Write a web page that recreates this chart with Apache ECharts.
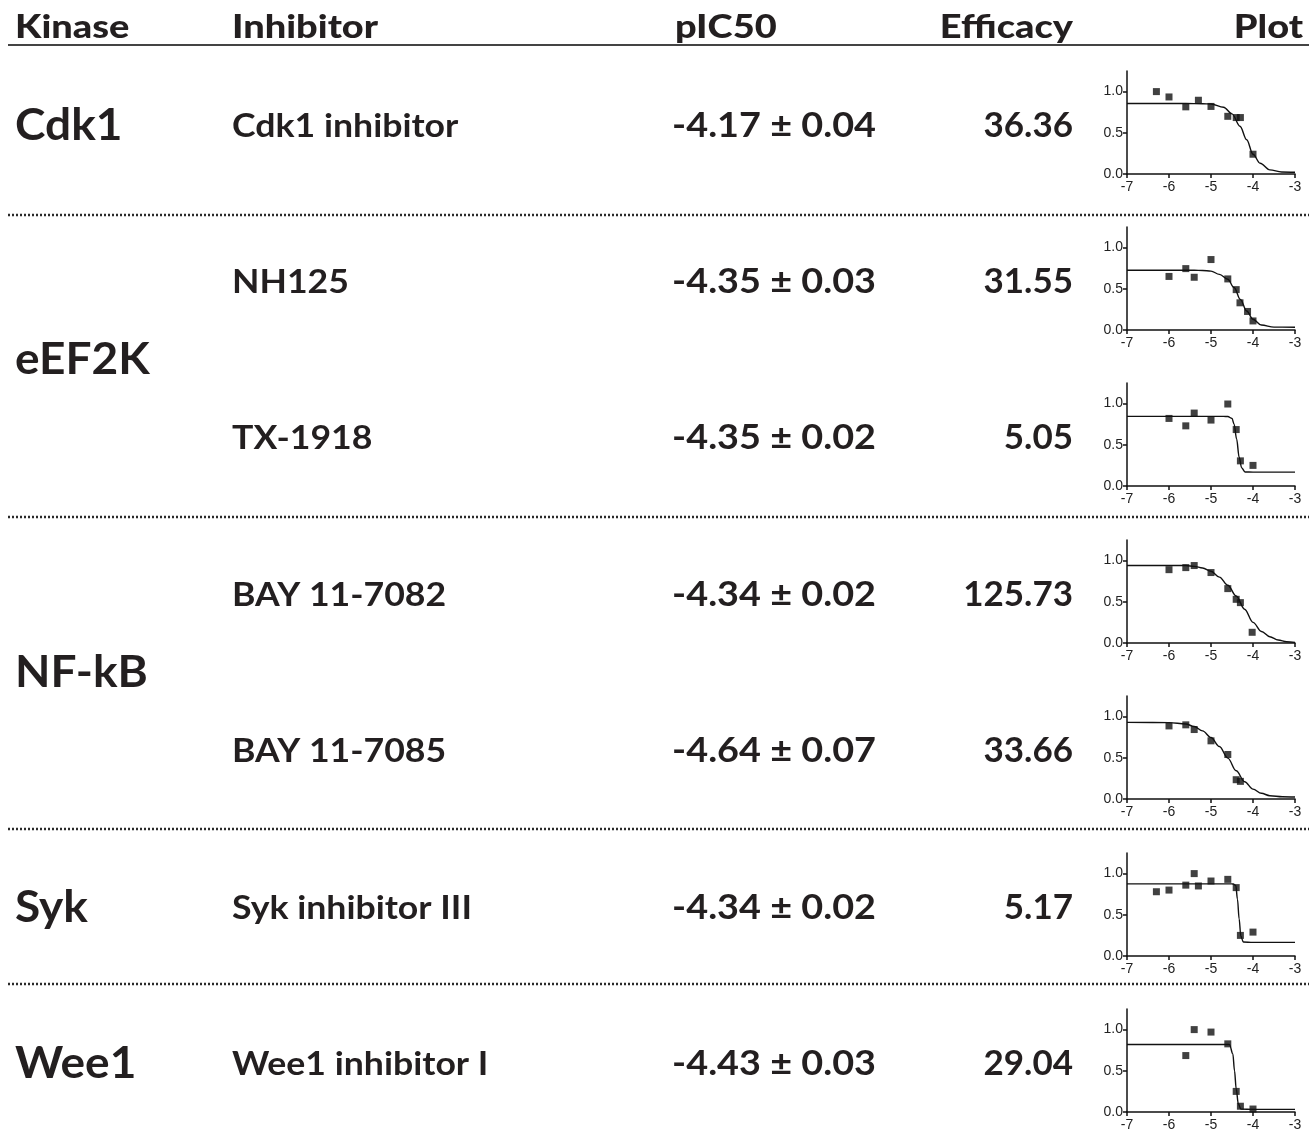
<!DOCTYPE html>
<html><head><meta charset="utf-8">
<script src="https://cdn.jsdelivr.net/npm/echarts@6/dist/echarts.min.js"></script>
<style>html,body{margin:0;padding:0;background:#fff}#c{width:1309px;height:1134px}</style>
</head><body><div id="c"></div>
<script>
// ---------- table data ----------
const headers = ['Kinase', 'Inhibitor', 'pIC50', 'Efficacy', 'Plot'];
const kinases = ['Cdk1', 'eEF2K', 'NF-kB', 'Syk', 'Wee1'];
const kinaseRowCount = [1, 2, 2, 1, 1];
const inhibitors = ['Cdk1 inhibitor', 'NH125', 'TX-1918', 'BAY 11-7082', 'BAY 11-7085', 'Syk inhibitor III', 'Wee1 inhibitor I'];
const pIC50 = ['-4.17 ± 0.04', '-4.35 ± 0.03', '-4.35 ± 0.02', '-4.34 ± 0.02', '-4.64 ± 0.07', '-4.34 ± 0.02', '-4.43 ± 0.03'];
const efficacy = ['36.36', '31.55', '5.05', '125.73', '33.66', '5.17', '29.04'];

// ---------- plot data (log concentration vs response) ----------
const ptsX1 = [-6.3, -6.0, -5.6, -5.3, -5.0, -4.6, -4.4, -4.3, -4.0];
const ptsY1 = [1.0, 0.935, 0.815, 0.895, 0.82, 0.70, 0.685, 0.685, 0.24];
const fitX1 = [-7, -5.6, -5.2, -5.0, -4.7, -4.5, -4.31, -4.15, -4.0, -3.83, -3.6, -3.32, -3.0];
const fitY1 = [0.855, 0.855, 0.853, 0.85, 0.81, 0.73, 0.58, 0.415, 0.24, 0.13, 0.05, 0.025, 0.022];

const ptsX2 = [-6.0, -5.6, -5.4, -5.0, -4.6, -4.4, -4.31, -4.13, -4.0];
const ptsY2 = [0.65, 0.745, 0.64, 0.855, 0.62, 0.49, 0.33, 0.225, 0.11];
const fitX2 = [-7, -5.4, -5.2, -5.0, -4.8, -4.6, -4.45, -4.3, -4.15, -4.0, -3.8, -3.5, -3.0];
const fitY2 = [0.725, 0.725, 0.722, 0.715, 0.675, 0.615, 0.515, 0.37, 0.23, 0.13, 0.06, 0.035, 0.033];

const ptsX3 = [-6.0, -5.6, -5.4, -5.0, -4.6, -4.4, -4.3, -4.0];
const ptsY3 = [0.82, 0.73, 0.885, 0.80, 0.995, 0.685, 0.305, 0.25];
const fitX3 = [-7, -4.7, -4.6, -4.5, -4.45, -4.39, -4.33, -4.27, -4.19, -4.0, -3.0];
const fitY3 = [0.845, 0.845, 0.843, 0.82, 0.75, 0.57, 0.35, 0.22, 0.17, 0.168, 0.168];

const ptsX4 = [-6.0, -5.6, -5.4, -5.0, -4.6, -4.4, -4.3, -4.02];
const ptsY4 = [0.89, 0.915, 0.94, 0.855, 0.66, 0.53, 0.49, 0.13];
const fitX4 = [-7, -5.6, -5.4, -5.2, -5.0, -4.8, -4.6, -4.4, -4.2, -4.0, -3.8, -3.6, -3.4, -3.2, -3.0];
const fitY4 = [0.94, 0.94, 0.93, 0.91, 0.87, 0.80, 0.70, 0.57, 0.41, 0.25, 0.14, 0.076, 0.036, 0.016, 0.008];

const ptsX5 = [-6.0, -5.6, -5.4, -5.0, -4.6, -4.4, -4.3];
const ptsY5 = [0.887, 0.90, 0.843, 0.706, 0.54, 0.234, 0.214];
const fitX5 = [-7, -6.0, -5.6, -5.4, -5.2, -5.0, -4.8, -4.6, -4.4, -4.2, -4.0, -3.8, -3.6, -3.3, -3.0];
const fitY5 = [0.93, 0.927, 0.91, 0.88, 0.827, 0.746, 0.637, 0.496, 0.343, 0.21, 0.12, 0.069, 0.04, 0.028, 0.024];

const ptsX6 = [-6.3, -6.0, -5.6, -5.4, -5.3, -5.0, -4.6, -4.4, -4.3, -4.0];
const ptsY6 = [0.78, 0.80, 0.86, 1.0, 0.85, 0.91, 0.93, 0.83, 0.25, 0.29];
const fitX6 = [-7, -4.5, -4.47, -4.41, -4.37, -4.33, -4.29, -4.23, -4.0, -3.0];
const fitY6 = [0.875, 0.875, 0.873, 0.855, 0.69, 0.45, 0.24, 0.17, 0.165, 0.165];

const ptsX7 = [-5.6, -5.4, -5.0, -4.6, -4.4, -4.3, -4.0];
const ptsY7 = [0.685, 1.0, 0.97, 0.827, 0.25, 0.07, 0.036];
const fitX7 = [-7, -4.6, -4.56, -4.48, -4.44, -4.4, -4.35, -4.29, -4.0, -3.0];
const fitY7 = [0.82, 0.82, 0.818, 0.705, 0.50, 0.28, 0.10, 0.036, 0.032, 0.032];

const xTicks = [-7, -6, -5, -4, -3];
const yTicks = [0, 0.5, 1.0];

const plots = [
  [ptsX1, ptsY1, fitX1, fitY1], [ptsX2, ptsY2, fitX2, fitY2], [ptsX3, ptsY3, fitX3, fitY3],
  [ptsX4, ptsY4, fitX4, fitY4], [ptsX5, ptsY5, fitX5, fitY5], [ptsX6, ptsY6, fitX6, fitY6],
  [ptsX7, ptsY7, fitX7, fitY7]
];

// ---------- layout ----------
const INK = '#231f20';
const rowY = [126, 282, 438, 595, 751, 908, 1064];
const sepY = [215, 517, 829, 984];
const colKinaseX = 15, colInhX = 232, colPicRight = 876, colEffRight = 1073, colPlotRight = 1303;
const plotLeft = 1127, plotWidth = 168, plotHeight = 103, plotZeroOffset = 48;
const FONT = 'Lato';

const graphic = [];
function txt(text, x, y, size, align, weight, sx) {
  graphic.push({type: 'text', x: x, y: y, scaleX: sx || 1, style: {
    text: text, fill: INK, font: (weight || 'bold') + ' ' + size + 'px ' + FONT,
    textAlign: align, textVerticalAlign: 'middle'}});
}
// headers
const headerX = [colKinaseX, colInhX, 675, colEffRight, colPlotRight];
const headerAlign = ['left', 'left', 'left', 'right', 'right'];
headers.forEach((h, i) => txt(h, headerX[i], 27, 33, headerAlign[i], '900', 1.15));
graphic.push({type: 'line', shape: {x1: 8, y1: 45, x2: 1309, y2: 45}, style: {stroke: '#444', lineWidth: 2}});
sepY.forEach(y => graphic.push({type: 'line', shape: {x1: 8, y1: y, x2: 1309, y2: y},
  style: {stroke: '#2a2a2a', lineWidth: 2.5, lineDash: [2, 2]}}));
// kinase names
let r = 0;
kinases.forEach((k, i) => {
  const n = kinaseRowCount[i];
  const yc = (rowY[r] + rowY[r + n - 1]) / 2;
  txt(k, colKinaseX, yc, 43, 'left', 'bold', 1.07);
  r += n;
});
inhibitors.forEach((s, i) => {
  txt(s, colInhX, rowY[i], 33, 'left', 'bold', 1.08);
  txt(pIC50[i], colPicRight, rowY[i], 35, 'right', 'bold', 1.08);
  txt(efficacy[i], colEffRight, rowY[i], 35, 'right', 'bold', 1.0);
});

const grids = [], xAxes = [], yAxes = [], series = [];
plots.forEach((p, i) => {
  grids.push({left: plotLeft, width: plotWidth, top: rowY[i] + plotZeroOffset - plotHeight, height: plotHeight});
  const axLine = {show: true, lineStyle: {color: '#111', width: 1.5}};
  xAxes.push({type: 'value', gridIndex: i, min: -7, max: -3, interval: 1,
    axisLine: axLine, axisTick: {show: true, length: 4, lineStyle: {color: '#111', width: 1.5}},
    splitLine: {show: false},
    axisLabel: {color: '#222', fontSize: 14, fontFamily: 'Liberation Sans', margin: 6,
      customValues: xTicks}});
  yAxes.push({type: 'value', gridIndex: i, min: 0, max: 1.25,
    axisLine: axLine, axisTick: {show: true, length: 4, customValues: yTicks, lineStyle: {color: '#111', width: 1.5}},
    splitLine: {show: false},
    axisLabel: {color: '#222', fontSize: 14, fontFamily: 'Liberation Sans', margin: 4,
      customValues: yTicks, formatter: v => v.toFixed(1)}});
  series.push({type: 'line', xAxisIndex: i, yAxisIndex: i, data: p[2].map((x, j) => [x, p[3][j]]),
    showSymbol: false, smooth: 0.35, smoothMonotone: 'x', lineStyle: {color: '#111', width: 1.4}, silent: true});
  series.push({type: 'scatter', xAxisIndex: i, yAxisIndex: i, data: p[0].map((x, j) => [x, p[1][j]]),
    symbol: 'rect', symbolSize: 7, itemStyle: {color: '#111'}, silent: true});
});

const chart = echarts.init(document.getElementById('c'), null, {renderer: 'canvas'});
chart.setOption({animation: false, backgroundColor: '#fff', grid: grids, xAxis: xAxes, yAxis: yAxes,
  series: series, graphic: graphic});
</script></body></html>
